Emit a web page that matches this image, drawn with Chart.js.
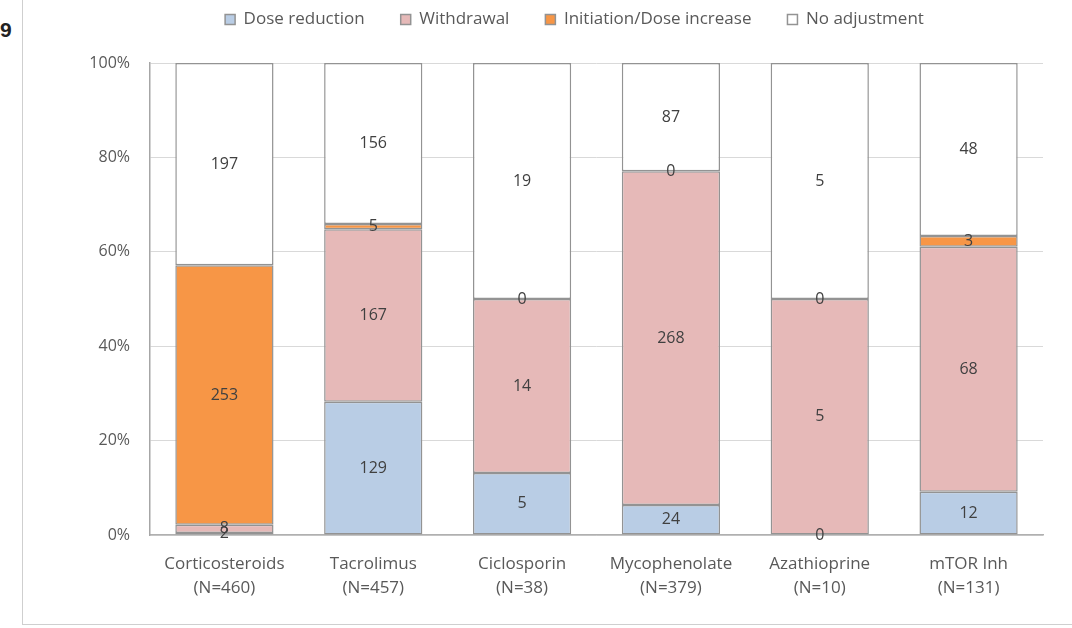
<!DOCTYPE html>
<html lang="en">
<head>
  <meta charset="UTF-8">
  <title>Dose adjustments by drug</title>
  <script src="https://cdn.jsdelivr.net/npm/chart.js"></script>
  <style>
    body { margin: 0; background: #fff; }
    #wrap { position: relative; width: 1072px; height: 628px; }
    #frame { position: absolute; left: 22px; top: 0; width: 1050px; height: 625px;
             border-left: 1px solid #cfcfcf; border-bottom: 1px solid #cfcfcf; box-sizing: border-box; }
    #fig { position: absolute; left: 0; top: 18px; font: bold 21px "Liberation Sans", sans-serif; color: #222; }
    canvas { position: absolute; left: 0; top: 0; }
  </style>
</head>
<body>
<div id="wrap">
  <div id="frame"></div>
  <div id="fig">9</div>
  <canvas id="adjChart" width="1072" height="628"></canvas>
</div>

<script>
  // categories
  var drugs = [
    ['Corticosteroids', '(N=460)'],
    ['Tacrolimus', '(N=457)'],
    ['Ciclosporin', '(N=38)'],
    ['Mycophenolate', '(N=379)'],
    ['Azathioprine', '(N=10)'],
    ['mTOR Inh', '(N=131)']
  ];
  var totals = [460, 457, 38, 379, 10, 131];

  // counts per series (labels on the bars)
  var doseReduction = [2, 129, 5, 24, 0, 12];
  var withdrawal    = [8, 167, 14, 268, 5, 68];
  var initiation    = [253, 5, 0, 0, 0, 3];
  var noAdjustment  = [197, 156, 19, 87, 5, 48];

  var yTicks = [0, 20, 40, 60, 80, 100];

  function pct(arr) {
    return arr.map(function(v, i) { return v / totals[i] * 100; });
  }

  var series = [
    { label: 'Dose reduction', counts: doseReduction, color: '#b9cde5' },
    { label: 'Withdrawal', counts: withdrawal, color: '#e6b9b8' },
    { label: 'Initiation/Dose increase', counts: initiation, color: '#f79646' },
    { label: 'No adjustment', counts: noAdjustment, color: '#ffffff' }
  ];

  var FONT = '"Open Sans", sans-serif';

  var countLabels = {
    id: 'countLabels',
    beforeLayout: function(chart) {
      // leave room under the legend, like the original
      var lg = chart.legend;
      if (lg && !lg._tall) {
        var fit = lg.fit;
        lg.fit = function() { fit.call(this); this.height = 88; };
        lg._tall = true;
      }
    },
    afterLayout: function(chart) {
      // legend sits a bit left of the plot centre
      chart.legend.left = 106;
      chart.legend.width = chart.legend.right - 106;
    },
    // counts in the middle of each segment
    afterDatasetsDraw: function(chart) {
      var ctx = chart.ctx;
      ctx.save();
      ctx.font = '16px ' + FONT;
      ctx.fillStyle = '#404040';
      ctx.textAlign = 'center';
      ctx.textBaseline = 'middle';
      chart.data.datasets.forEach(function(ds, di) {
        var meta = chart.getDatasetMeta(di);
        meta.data.forEach(function(bar, i) {
          var y = (bar.y + bar.base) / 2;
          ctx.fillText(String(series[di].counts[i]), bar.x, y);
        });
      });
      ctx.restore();
    }
  };

  var ctx = document.getElementById('adjChart').getContext('2d');
  new Chart(ctx, {
    type: 'bar',
    data: {
      labels: drugs,
      datasets: series.map(function(s) {
        return {
          label: s.label,
          data: pct(s.counts),
          backgroundColor: s.color,
          borderColor: '#939393',
          borderWidth: 1.5,
          borderSkipped: false,
          categoryPercentage: 1,
          barPercentage: 0.66
        };
      })
    },
    options: {
      responsive: false,
      animation: false,
      layout: { padding: { left: 40, right: 29, top: -25, bottom: 23 } },
      plugins: {
        tooltip: { enabled: false },
        legend: {
          position: 'top',
          labels: {
            boxWidth: 10,
            boxHeight: 10,
            padding: 36,
            color: '#595959',
            font: { family: FONT, size: 17 }
          }
        }
      },
      scales: {
        x: {
          stacked: true,
          grid: { display: false, drawTicks: false },
          border: { color: '#b0b0b0', width: 1.5 },
          ticks: {
            color: '#595959',
            padding: 17,
            maxRotation: 0,
            autoSkip: false,
            font: { family: FONT, size: 17, lineHeight: 1.4 }
          },
          afterFit: function(axis) { axis.height = 70; }
        },
        y: {
          stacked: true,
          min: 0,
          max: 100,
          afterBuildTicks: function(axis) {
            axis.ticks = yTicks.map(function(v) { return { value: v }; });
          },
          grid: { color: '#d9d9d9', drawTicks: false },
          border: { display: true, color: '#a6a6a6', width: 1.5 },
          ticks: {
            color: '#595959',
            padding: 20,
            font: { family: FONT, size: 16 },
            callback: function(v) { return v + '%'; }
          },
          afterFit: function(axis) { axis.width = 110; }
        }
      }
    },
    plugins: [countLabels]
  });
</script>
</body>
</html>
